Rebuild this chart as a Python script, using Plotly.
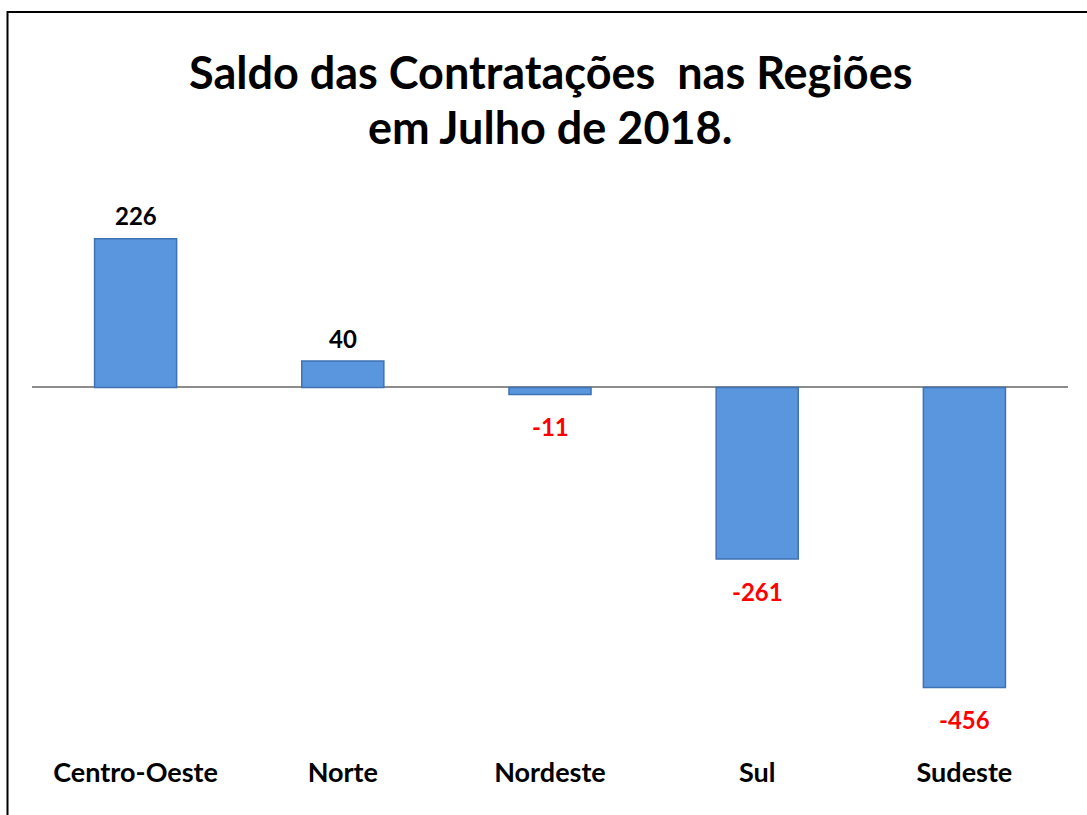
import plotly.graph_objects as go

regions = ["Centro-Oeste", "Norte", "Nordeste", "Sul", "Sudeste"]
saldo = [226, 40, -11, -261, -456]
title_lines = ["Saldo das Contratações\u00a0 nas Regiões", "em Julho de 2018."]

FONT = "Lato, Calibri, Carlito, sans-serif"
W, H = 1087, 815
L, R, T, B = 32, 19, 188, 69
PW, PH = W - L - R, H - T - B

fig = go.Figure()
fig.add_trace(go.Bar(
    x=regions, y=saldo,
    marker=dict(color="#5A96DD", line=dict(color="#3F72B3", width=1.5)),
    hoverinfo="x+y",
))

annotations = []
for r, v in zip(regions, saldo):
    annotations.append(dict(
        x=r, y=v, xref="x", yref="y", text=f"<b>{v}</b>", showarrow=False,
        yanchor="middle", yshift=23 if v >= 0 else -32,
        font=dict(family=FONT, size=24, color="#000000" if v >= 0 else "#FF0000"),
    ))

# title lines (centres in pixels from top: 70, 125)
for line, py in zip(title_lines, [72, 127]):
    annotations.append(dict(
        x=0.5, xref="paper", y=(H - B - py) / PH, yref="paper",
        text=f"<b>{line}</b>", showarrow=False, xanchor="center", yanchor="middle",
        font=dict(family=FONT, size=45, color="black"),
    ))

fig.update_layout(
    width=W, height=H,
    margin=dict(l=L, r=R, t=T, b=B),
    paper_bgcolor="white", plot_bgcolor="white",
    showlegend=False,
    bargap=0.604,
    xaxis=dict(
        showgrid=False, showline=False, ticks="", zeroline=False,
        tickfont=dict(family=FONT, size=27, color="black"),
        tickprefix="<b>", ticksuffix="</b>",
        ticklabelstandoff=8,
    ),
    yaxis=dict(
        range=[-545, 303], showgrid=False, showticklabels=False, ticks="",
        zeroline=True, zerolinecolor="#8C8C8C", zerolinewidth=1.5, showline=False,
    ),
    annotations=annotations,
    shapes=[dict(
        type="rect", xref="paper", yref="paper",
        x0=(7.5 - L) / PW, x1=(W + 10 - L) / PW,
        y0=-(B + 10) / PH, y1=(H - B - 12) / PH,
        line=dict(color="black", width=2), fillcolor="rgba(0,0,0,0)", layer="above",
    )],
)

fig.write_html("out.html")
